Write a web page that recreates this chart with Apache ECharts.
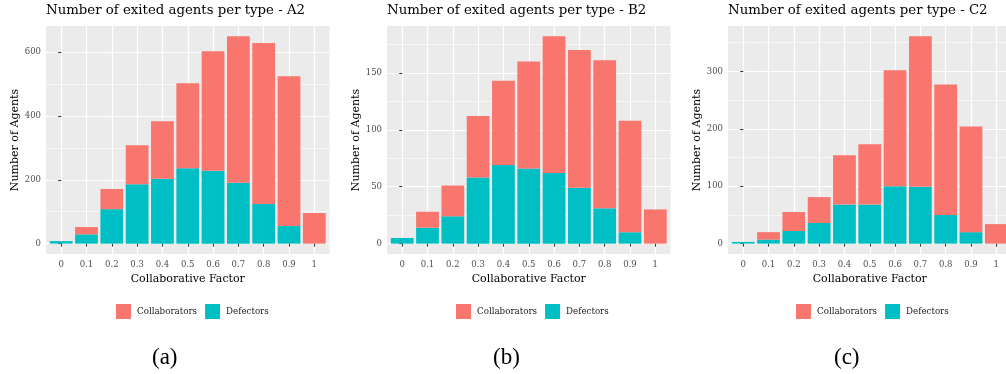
<!DOCTYPE html>
<html>
<head>
<meta charset="utf-8">
<script src="https://cdn.jsdelivr.net/npm/echarts@6/dist/echarts.min.js"></script>
<style>
  html, body { margin: 0; padding: 0; background: #fff; overflow: hidden; }
  /* canvas runs a little past the right edge so the last panel is cut off there */
  #chart { width: 1020px; height: 374px; }
</style>
</head>
<body>
<div id="chart"></div>
<script>
// Collaborative factor categories shown on every x axis
const xLabels = ['0', '0.1', '0.2', '0.3', '0.4', '0.5', '0.6', '0.7', '0.8', '0.9', '1'];

// Scenario A2
const collabA = [0, 23, 63, 122, 180, 266, 374, 458, 504, 469, 96];
const defectA = [8, 29, 108, 186, 203, 236, 228, 191, 124, 55, 0];
const yMajorA = [0, 200, 400, 600];
const yMinorA = [100, 300, 500];

// Scenario B2
const collabB = [0, 14, 27, 54, 74, 94, 120, 121, 130, 98, 30];
const defectB = [5, 14, 24, 58, 69, 66, 62, 49, 31, 10, 0];
const yMajorB = [0, 50, 100, 150];
const yMinorB = [25, 75, 125, 175];

// Scenario C2
const collabC = [0, 13, 33, 45, 86, 105, 202, 262, 227, 184, 34];
const defectC = [3, 7, 22, 36, 68, 68, 100, 99, 50, 20, 0];
const yMajorC = [0, 100, 200, 300];
const yMinorC = [50, 150, 250, 350];

const panelTitles = ['Number of exited agents per type - A2',
                     'Number of exited agents per type - B2',
                     'Number of exited agents per type - C2'];
const panelTags = ['(a)', '(b)', '(c)'];

const COLLAB = '#F8766D';
const DEFECT = '#00BFC4';
const FONT = '"DejaVu Serif", serif';

const panels = [
  { collab: collabA, defect: defectA, major: yMajorA, minor: yMinorA, left: 46,  legendLeft: 116, tagX: 165 },
  { collab: collabB, defect: defectB, major: yMajorB, minor: yMinorB, left: 387, legendLeft: 456, tagX: 506 },
  { collab: collabC, defect: defectC, major: yMajorC, minor: yMinorC, left: 728, legendLeft: 796, tagX: 847 }
];

const option = {
  animation: false,
  backgroundColor: '#ffffff',
  title: [], grid: [], xAxis: [], yAxis: [], series: [], legend: [], graphic: []
};

const idx = xLabels.map((_, i) => i);

panels.forEach((p, k) => {
  const totals = p.collab.map((v, i) => v + p.defect[i]);
  const top = Math.max(...totals);
  // 5% padding above and below the data range
  const yMin = -0.05 * top;
  const yMax = 1.05 * top;

  option.title.push({
    text: panelTitles[k],
    left: p.left, top: 4, padding: 0,
    textStyle: { fontFamily: FONT, fontSize: 13.3, fontWeight: 'normal', color: '#000' }
  });

  option.grid.push({
    left: p.left, top: 26, width: 283.5, height: 228,
    show: true, backgroundColor: '#EBEBEB', borderWidth: 0
  });

  // Numeric x axis so the 0.6-band padding at both ends can be set exactly
  option.xAxis.push({
    type: 'value', gridIndex: k, min: -0.6, max: 10.6,
    name: 'Collaborative Factor', nameLocation: 'middle', nameGap: 17,
    nameTextStyle: { fontFamily: FONT, fontSize: 11, color: '#000' },
    axisLine: { show: false },
    axisTick: { show: true, length: 3, customValues: idx, lineStyle: { color: '#333', width: 1 } },
    axisLabel: {
      customValues: idx, margin: 6,
      fontFamily: FONT, fontSize: 8.5, color: '#4D4D4D',
      formatter: v => xLabels[Math.round(v)]
    },
    splitLine: { show: true, lineStyle: { color: '#FFFFFF', width: 1.2 } }
  });

  // Main y axis: labels, ticks and major grid lines
  option.yAxis.push({
    type: 'value', gridIndex: k, min: yMin, max: yMax,
    name: 'Number of Agents', nameLocation: 'middle', nameGap: 23,
    nameTextStyle: { fontFamily: FONT, fontSize: 11, color: '#000' },
    axisLine: { show: false },
    axisTick: { show: true, length: 3, customValues: p.major, lineStyle: { color: '#333', width: 1 } },
    axisLabel: { customValues: p.major, margin: 5, fontFamily: FONT, fontSize: 8.5, color: '#4D4D4D' },
    splitLine: { show: true, lineStyle: { color: '#FFFFFF', width: 1.2 } }
  });

  // Companion y axis carrying only the thinner minor grid lines
  option.yAxis.push({
    type: 'value', gridIndex: k, min: yMin, max: yMax,
    axisLine: { show: false },
    axisTick: { show: false, customValues: p.minor },
    axisLabel: { show: false },
    splitLine: { show: true, lineStyle: { color: '#FFFFFF', width: 0.6 } }
  });

  const yIndex = k * 2;
  // Count column first so the stack is applied to the count dimension
  const dims = ['count', 'factor'];
  const enc = { x: 'factor', y: 'count' };
  option.series.push({
    name: 'Defectors', type: 'bar', stack: 'agents' + k,
    xAxisIndex: k, yAxisIndex: yIndex, barWidth: '90%',
    dimensions: dims, encode: enc,
    itemStyle: { color: DEFECT },
    data: p.defect.map((v, i) => [v, i])
  });
  option.series.push({
    name: 'Collaborators', type: 'bar', stack: 'agents' + k,
    xAxisIndex: k, yAxisIndex: yIndex, barWidth: '90%',
    dimensions: dims, encode: enc,
    itemStyle: { color: COLLAB },
    data: p.collab.map((v, i) => [v, i])
  });

  option.legend.push({
    data: ['Collaborators', 'Defectors'],
    left: p.legendLeft, top: 304, padding: 0,
    icon: 'rect', itemWidth: 15, itemHeight: 15, itemGap: 8,
    selectedMode: false,
    textStyle: { fontFamily: FONT, fontSize: 8.7, color: '#1A1A1A', padding: [0, 0, 0, 1] }
  });

  option.graphic.push({
    type: 'text', left: p.tagX - 13, top: 346,
    style: { text: panelTags[k], font: '23px "Liberation Serif", serif', fill: '#000' }
  });
});

const chart = echarts.init(document.getElementById('chart'), null, { renderer: 'canvas' });
chart.setOption(option);
</script>
</body>
</html>
